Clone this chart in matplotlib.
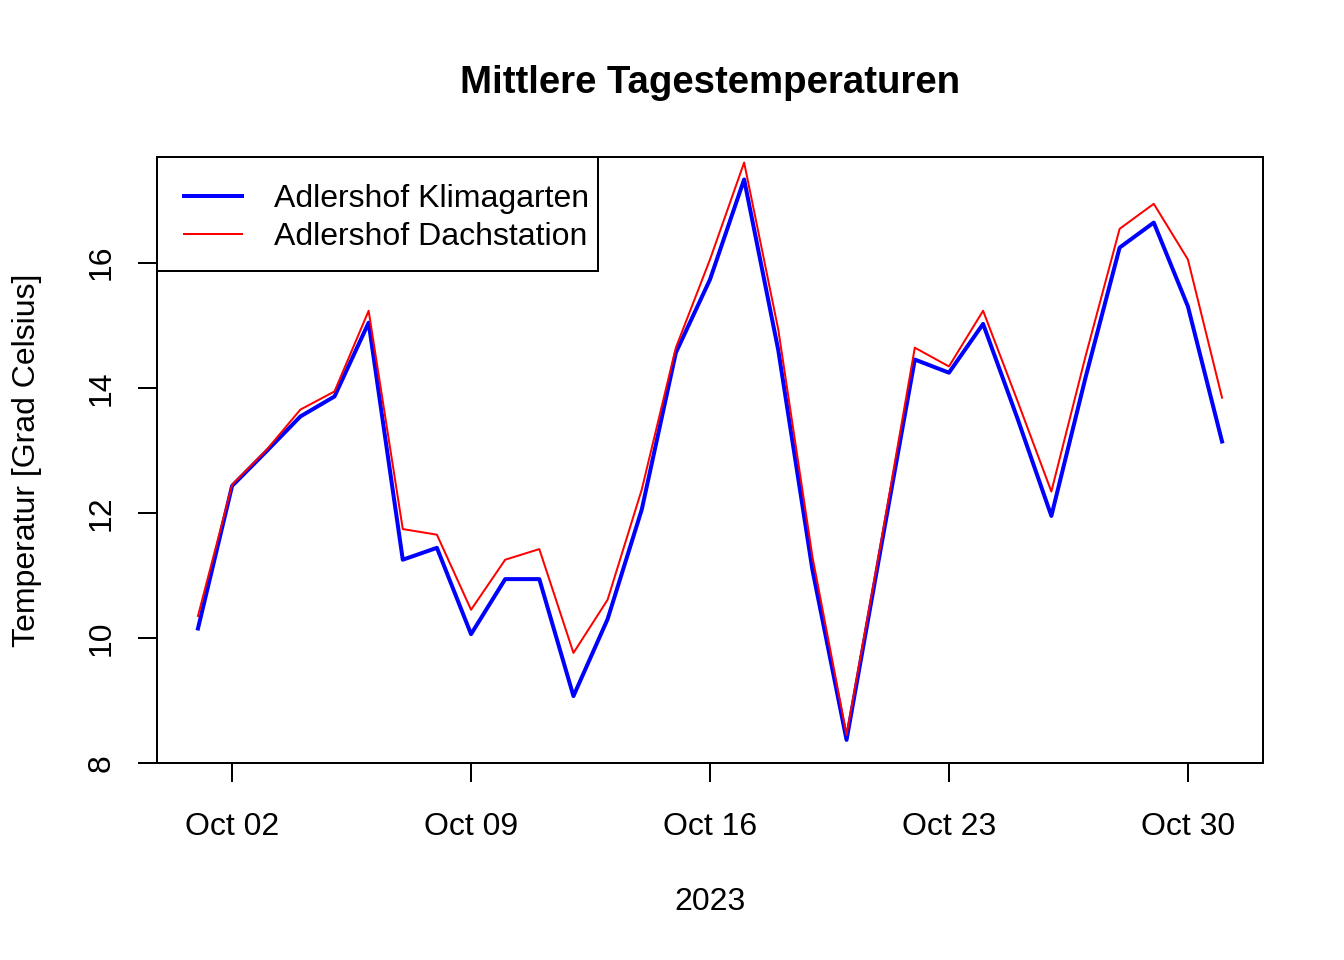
import pandas as pd
import matplotlib.pyplot as plt
import matplotlib.dates as mdates
from matplotlib.patches import Rectangle

plt.rcParams["font.family"] = ["Liberation Sans", "DejaVu Sans"]
plt.rcParams["font.size"] = 12

# daily mean temperatures, October 2023
dates = pd.date_range("2023-10-01", "2023-10-31", freq="D")
klimagarten = [10.15, 12.43, 12.98, 13.54, 13.86, 15.04, 11.25, 11.44, 10.06, 10.94,
               10.94, 9.07, 10.30, 12.05, 14.56, 15.73, 17.33, 14.60, 11.09, 8.37,
               11.42, 14.45, 14.24, 15.02, 13.52, 11.95, 14.16, 16.24, 16.64, 15.30,
               13.14]
dachstation = [10.35, 12.45, 13.00, 13.65, 13.94, 15.23, 11.74, 11.65, 10.45, 11.25,
               11.42, 9.76, 10.61, 12.37, 14.64, 16.05, 17.60, 14.93, 11.30, 8.45,
               11.50, 14.64, 14.34, 15.23, 13.80, 12.34, 14.50, 16.54, 16.94, 16.05,
               13.84]
tick_dates = pd.to_datetime(["2023-10-02", "2023-10-09", "2023-10-16",
                             "2023-10-23", "2023-10-30"])
y_ticks = [8, 10, 12, 14, 16]

fig = plt.figure(figsize=(7, 5), dpi=192)
ax = fig.add_axes([157 / 1344, 1 - 763 / 960, 1106 / 1344, 606 / 960])

ax.plot(dates, klimagarten, color="blue", lw=1.5, label="Adlershof Klimagarten")
ax.plot(dates, dachstation, color="red", lw=0.75, label="Adlershof Dachstation")

# R style axis ranges: 4% padding around the blue series / dates
lo, hi = min(klimagarten), max(klimagarten)
pad = 0.04 * (hi - lo)
ax.set_ylim(lo - pad, hi + pad)
span = dates[-1] - dates[0]
ax.set_xlim(dates[0] - 0.04 * span, dates[-1] + 0.04 * span)

ax.set_xticks(tick_dates)
ax.xaxis.set_major_formatter(mdates.DateFormatter("%b %d"))
ax.set_yticks(y_ticks)
ax.set_yticklabels([str(t) for t in y_ticks], rotation=90, va="center")

for s in ax.spines.values():
    s.set_linewidth(0.75)
ax.tick_params(axis="both", length=7.2, width=0.75, labelsize=12)
ax.tick_params(axis="x", pad=11)
ax.tick_params(axis="y", pad=8)

ax.set_title("Mittlere Tagestemperaturen", fontsize=14.4, fontweight="bold", pad=24)
ax.set_xlabel("2023")
ax.xaxis.set_label_coords(0.5, -0.205)
ax.set_ylabel("Temperatur [Grad Celsius]")
ax.yaxis.set_label_coords(-0.104, 0.5)

# legend box drawn separately (R legend has a tighter frame than matplotlib's)
box_w, box_h = 441 / 1106, 114 / 606
ax.add_patch(Rectangle((0, 1 - box_h), box_w, box_h, transform=ax.transAxes,
                       facecolor="white", edgecolor="black", lw=0.75, zorder=4))
ax.legend(loc="upper left", borderaxespad=0, frameon=False,
          handlelength=1.81, handletextpad=1.0, borderpad=0.85, labelspacing=0.25)

fig.savefig("out.png", dpi=192)
